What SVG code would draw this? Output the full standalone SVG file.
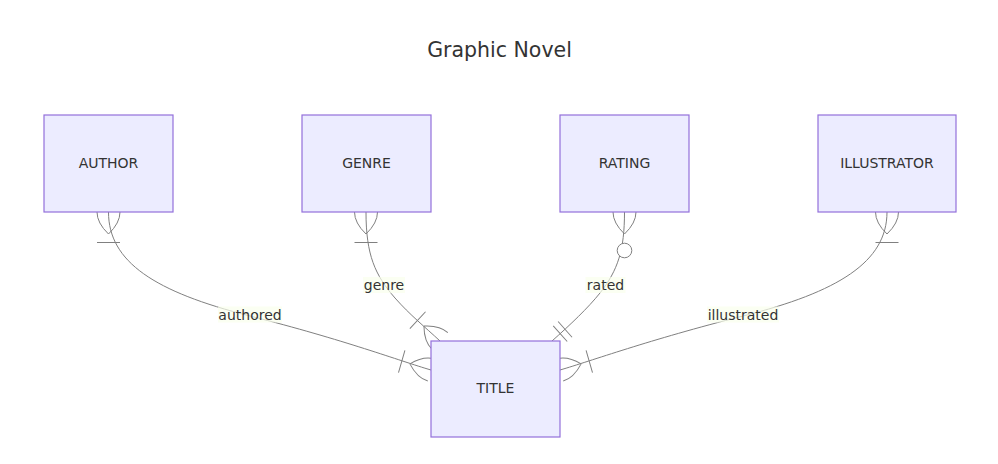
<svg xmlns="http://www.w3.org/2000/svg" width="998" height="464" viewBox="0 0 998 464">
<style>
.title{font-family:"DejaVu Sans",Verdana,sans-serif;font-size:20.5px;fill:#333;text-anchor:middle}
.entity rect{fill:#ECECFF;stroke:#9370DB;stroke-width:1.2}
.entity text{font-family:"DejaVu Sans",Verdana,sans-serif;font-size:14px;fill:#333;text-anchor:middle;dominant-baseline:central}
.rel{fill:none;stroke:#808080;stroke-width:1}
.mk{fill:none;stroke:#808080;stroke-width:1}
.lbl rect{fill:#f9ffec;opacity:0.7}
.lbl text{font-family:"DejaVu Sans",Verdana,sans-serif;font-size:14px;fill:#333;text-anchor:middle;dominant-baseline:central}
</style>
<defs>
<marker id="oneMore" markerUnits="userSpaceOnUse" orient="auto-start-reverse" refX="0" refY="0" markerWidth="1" markerHeight="1" style="overflow:visible">
<path class="mk" d="M-22,0 Q-11,-11.5 0,-11.5 M-22,0 Q-11,11.5 0,11.5 M-30.5,-11.5 L-30.5,11.5"/>
</marker>
<marker id="zeroMore" markerUnits="userSpaceOnUse" orient="auto-start-reverse" refX="0" refY="0" markerWidth="1" markerHeight="1" style="overflow:visible">
<path class="mk" d="M-22,0 Q-11,-11.5 0,-11.5 M-22,0 Q-11,11.5 0,11.5"/>
<circle cx="-38.5" cy="0" r="7.3" fill="#ffffff" stroke="#808080" stroke-width="1"/>
</marker>
<marker id="exactOne" markerUnits="userSpaceOnUse" orient="auto-start-reverse" refX="0" refY="0" markerWidth="1" markerHeight="1" style="overflow:visible">
<path class="mk" d="M-11,-10.5 L-11,10.5 M-17.5,-10.5 L-17.5,10.5"/>
</marker>
</defs>
<rect width="998" height="464" fill="#ffffff"/>
<text class="title" x="499.5" y="56.5">Graphic Novel</text>
<g id="connectors">
<path id="e-authored" class="rel" d="M108.5,212 C108.5,262 155,292 250,316 S400,361 431,370" marker-start="url(#oneMore)" marker-end="url(#oneMore)"/>
<path id="e-genre" class="rel" d="M366,212 C366,255 375,275 395,298 C410,315 425,327 440,341" marker-start="url(#oneMore)" marker-end="url(#oneMore)"/>
<path id="e-rated" class="rel" d="M624.5,212 C624.5,250 618,270 600,293 C588,308 570,325 552,341" marker-start="url(#zeroMore)" marker-end="url(#exactOne)"/>
<path id="e-illustrated" class="rel" d="M887,212 C887,262 838,292 743,316 S591,361 560,370" marker-start="url(#oneMore)" marker-end="url(#oneMore)"/>
</g>
<g id="edge-labels">
<g class="lbl" id="l-authored"><rect x="218" y="306.5" width="64" height="16"/><text x="250" y="314.5">authored</text></g>
<g class="lbl" id="l-genre"><rect x="363" y="277" width="42" height="16"/><text x="384" y="285">genre</text></g>
<g class="lbl" id="l-rated"><rect x="585.5" y="277" width="40" height="16"/><text x="605.5" y="285">rated</text></g>
<g class="lbl" id="l-illustrated"><rect x="707" y="306.5" width="72" height="16"/><text x="743" y="314.5">illustrated</text></g>
</g>
<g id="AUTHOR" class="entity"><rect x="44" y="115" width="129" height="97"/><text x="108.5" y="162.5">AUTHOR</text></g>
<g id="GENRE" class="entity"><rect x="302" y="115" width="129" height="97"/><text x="366.5" y="162.5">GENRE</text></g>
<g id="RATING" class="entity"><rect x="560" y="115" width="129" height="97"/><text x="624.5" y="162.5">RATING</text></g>
<g id="ILLUSTRATOR" class="entity"><rect x="818" y="115" width="138" height="97"/><text x="887" y="162.5">ILLUSTRATOR</text></g>
<g id="TITLE" class="entity"><rect x="431" y="341" width="129" height="96"/><text x="495.5" y="388">TITLE</text></g>
</svg>
